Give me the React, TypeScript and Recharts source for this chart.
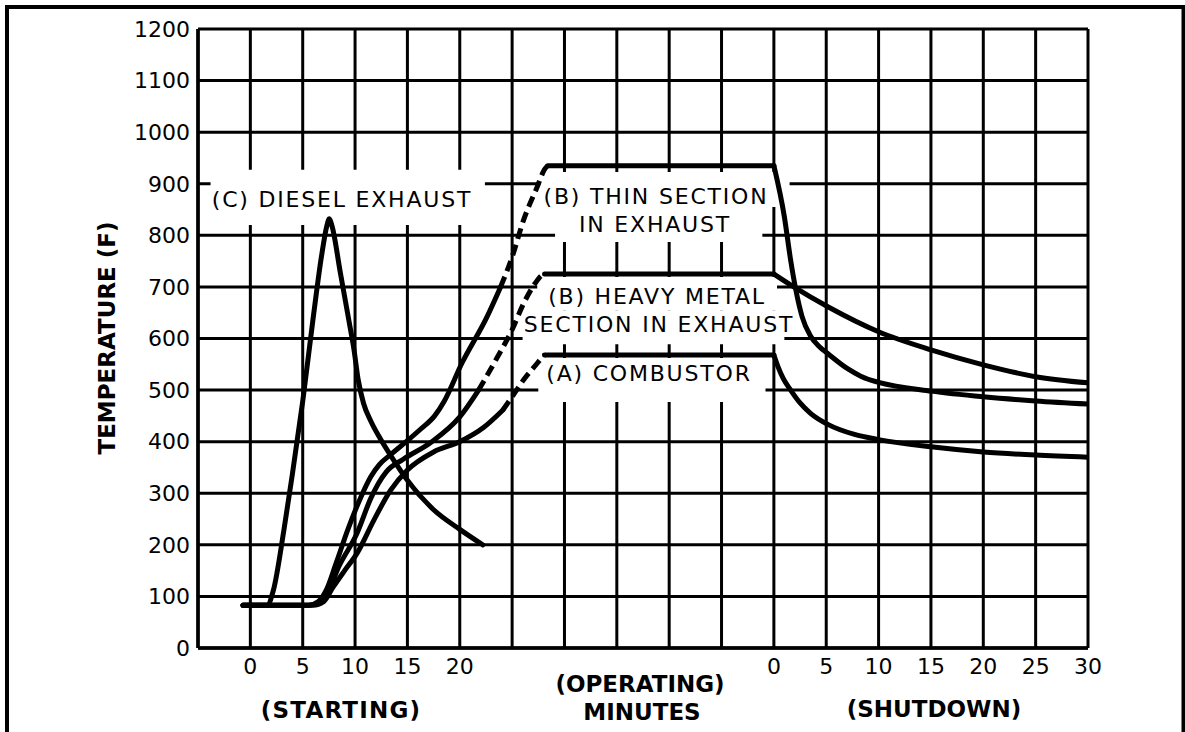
import { LineChart, Line, XAxis, YAxis, CartesianGrid, ReferenceArea } from 'recharts';

// x is an internal minute scale: starting 0..20 -> 0..20, operating gap 20..50, shutdown 0..30 -> 50..80
const xTicks = [0, 5, 10, 15, 20, 25, 30, 35, 40, 45, 50, 55, 60, 65, 70, 75, 80];
const yTicks = [0, 100, 200, 300, 400, 500, 600, 700, 800, 900, 1000, 1100, 1200];
const SHUTDOWN_START = 50;

type Pt = [number, number];
const toRows = (pts: Pt[]) => pts.map(([x, y]) => ({ x, y }));

const dieselExhaust: Pt[] = [
  [-0.7, 83], [1.6, 83], [2.2, 112], [3.2, 228], [4, 335], [5, 478], [6, 640], [6.8, 760],
  [7.3, 818], [7.55, 832], [7.8, 818], [8.6, 727], [9.4, 636], [9.9, 578], [10.3, 520],
  [10.8, 475], [11.5, 440], [12.4, 406], [13.5, 370], [15, 325], [17.5, 268], [20, 230], [22.2, 200],
];

const thinRise: Pt[] = [
  [-0.7, 83], [5.6, 83], [6.5, 90], [7.2, 110], [8.2, 165], [9.3, 229], [10.5, 290], [11.5, 332],
  [12.3, 355], [13.4, 375], [15, 402], [16.3, 425], [17.6, 450], [18.5, 478], [20.2, 552],
  [22.6, 642], [23.9, 700],
];
const thinRamp: Pt[] = [[23.9, 700], [25, 758], [26.1, 830], [27.4, 894], [28.1, 928], [28.4, 935]];
const thinHold: Pt[] = [[28.4, 935], [50, 935]];
const thinShutdown: Pt[] = [
  [50, 935], [51, 836], [51.6, 752], [52.1, 694], [52.7, 642], [53.5, 605], [54.3, 585],
  [55.2, 570], [57, 542], [58.3, 527], [59, 521], [60, 515], [65, 498], [70, 487], [75, 479], [80, 473],
];

const heavyRise: Pt[] = [
  [-0.7, 83], [5.6, 83], [6.5, 88], [7.3, 105], [8.5, 160], [10.2, 223], [11.5, 290], [12.2, 318],
  [13, 342], [14.6, 366], [17.2, 398], [20, 448], [21.8, 500],
];
const heavyRamp: Pt[] = [[21.8, 500], [23.6, 564], [25, 617], [26.1, 668], [27.2, 707], [27.8, 722], [28.1, 725]];
const heavyHold: Pt[] = [[28.1, 725], [50, 725]];
const heavyShutdown: Pt[] = [
  [50, 725], [51.9, 700], [55.2, 661], [60, 613], [65, 578], [70, 549], [75, 526], [80, 514],
];

const combustorRise: Pt[] = [
  [-0.7, 83], [6, 83], [7, 90], [7.9, 118], [9, 150], [10.2, 184], [11.8, 248], [13.4, 306],
  [15, 345], [17.5, 380], [20, 400], [22.3, 428], [24.1, 461],
];
const combustorRamp: Pt[] = [[24.1, 461], [25, 487], [26.1, 520], [27.4, 552], [27.8, 562], [28.1, 568]];
const combustorHold: Pt[] = [[28.1, 568], [50, 568]];
const combustorShutdown: Pt[] = [
  [50, 568], [50.4, 545], [50.9, 522], [51.6, 500], [52.5, 475], [53.5, 455], [55.2, 433],
  [57.7, 414], [60, 404], [65, 390], [70, 380], [75, 374], [80, 370],
];

const solidSeries = [dieselExhaust, thinRise, thinHold, thinShutdown, heavyRise, heavyHold, heavyShutdown, combustorRise, combustorHold, combustorShutdown];
const dashedSeries = [thinRamp, heavyRamp, combustorRamp];

// white boxes behind the curve labels (they blank out the grid)
const labelBoxes = [
  { x1: -3.8, x2: 22.4, y1: 820, y2: 927 },
  { x1: 27.7, x2: 51.5, y1: 855, y2: 923 },
  { x1: 29.1, x2: 48.9, y1: 787, y2: 855 },
  { x1: 27.4, x2: 50.3, y1: 655, y2: 719 },
  { x1: 26.0, x2: 51.0, y1: 589, y2: 655 },
  { x1: 27.5, x2: 49.2, y1: 477, y2: 562 },
];

const curveLabels = [
  { text: '(C) DIESEL EXHAUST', x: 342, y: 199 },
  { text: '(B) THIN SECTION', x: 656, y: 196 },
  { text: 'IN EXHAUST', x: 655, y: 224 },
  { text: '(B) HEAVY METAL', x: 657, y: 296 },
  { text: 'SECTION IN EXHAUST', x: 659, y: 324 },
  { text: '(A) COMBUSTOR', x: 649, y: 373 },
];

const axisLabels = [
  { text: '(STARTING)', x: 341, y: 710, spacing: 1.2 },
  { text: '(OPERATING)', x: 640, y: 684, spacing: 0 },
  { text: 'MINUTES', x: 642, y: 712, spacing: 0 },
  { text: '(SHUTDOWN)', x: 934, y: 709, spacing: 0 },
];

const FONT = '"DejaVu Sans", sans-serif';

function formatMinute(v: number) {
  if (v <= 20) return String(v);
  if (v >= SHUTDOWN_START) return String(v - SHUTDOWN_START);
  return '';
}

export default function App() {
  return (
    <div style={{ position: 'absolute', left: 0, top: 0, width: 1185, height: 732, background: '#fff' }}>
      <LineChart width={1185} height={732} margin={{ top: 29, right: 97, left: 128, bottom: 44 }}>
        <CartesianGrid stroke="#000" strokeWidth={3} />
        <XAxis
          type="number"
          dataKey="x"
          domain={[-5, 80]}
          ticks={xTicks}
          tickFormatter={formatMinute}
          height={40}
          axisLine={{ stroke: '#000', strokeWidth: 3.5 }}
          tickLine={false}
          tickMargin={4}
          tick={{ fill: '#000', fontSize: 22, fontFamily: FONT }}
          allowDataOverflow
        />
        <YAxis
          type="number"
          domain={[0, 1200]}
          ticks={yTicks}
          width={70}
          axisLine={{ stroke: '#000', strokeWidth: 3.5 }}
          tickLine={false}
          tick={{ fill: '#000', fontSize: 22, fontFamily: FONT }}
        />
        {labelBoxes.map((b, i) => (
          <ReferenceArea key={`box-${i}`} {...b} fill="#fff" fillOpacity={1} stroke="none" />
        ))}
        {solidSeries.map((pts, i) => (
          <Line
            key={`solid-${i}`}
            data={toRows(pts)}
            dataKey="y"
            type="monotone"
            stroke="#000"
            strokeWidth={5}
            strokeLinecap="round"
            strokeLinejoin="round"
            dot={false}
            activeDot={false}
            isAnimationActive={false}
          />
        ))}
        {dashedSeries.map((pts, i) => (
          <Line
            key={`dash-${i}`}
            data={toRows(pts)}
            dataKey="y"
            type="monotone"
            stroke="#000"
            strokeWidth={5}
            strokeDasharray="11 6"
            dot={false}
            activeDot={false}
            isAnimationActive={false}
          />
        ))}
      </LineChart>
      <svg width={1185} height={732} style={{ position: 'absolute', left: 0, top: 0, pointerEvents: 'none' }}>
        <path d="M7,732 V7 H1183.5 V732" fill="none" stroke="#000" strokeWidth={4} />
        {curveLabels.map((l) => (
          <text key={l.text} x={l.x} y={l.y + 8} textAnchor="middle" fontSize={22} fontFamily={FONT} fill="#000" letterSpacing={1.8}>
            {l.text}
          </text>
        ))}
        {axisLabels.map((l) => (
          <text key={l.text} x={l.x} y={l.y + 8} textAnchor="middle" fontSize={23} fontWeight="bold" fontFamily={FONT} fill="#000" letterSpacing={l.spacing}>
            {l.text}
          </text>
        ))}
        <text
          x={0}
          y={0}
          transform="translate(115,338) rotate(-90)"
          textAnchor="middle"
          fontSize={23}
          fontWeight="bold"
          fontFamily={FONT}
          fill="#000"
        >
          TEMPERATURE (F)
        </text>
      </svg>
    </div>
  );
}
